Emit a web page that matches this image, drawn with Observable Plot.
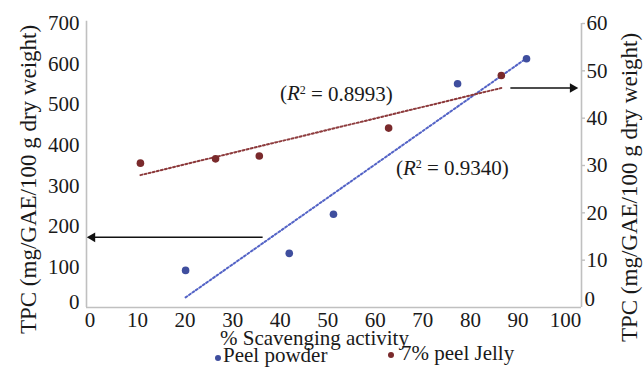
<!DOCTYPE html>
<html><head><meta charset="utf-8">
<script src="https://cdn.jsdelivr.net/npm/d3@7"></script>
<script src="https://cdn.jsdelivr.net/npm/@observablehq/plot@0.6"></script>
<style>
body{margin:0;background:#fff;font-family:"Liberation Serif","Times New Roman",serif;color:#1a1a1a}
#wrap{position:relative;width:643px;height:367px;overflow:hidden}
.abs{position:absolute;white-space:nowrap;font-size:21px;line-height:21px}
.dot{position:absolute;width:6px;height:6px;border-radius:50%}
</style>
</head><body><div id="wrap"></div>
<script>
// Data
const peelX = [20.1, 41.9, 51.2, 77.3, 91.8];
const peelY = [91.5, 133.5, 230, 551.5, 613];      // left axis
const jellyX = [10.6, 26.4, 35.6, 62.8, 86.5];
const jellyY = [30.5, 31.4, 32.0, 37.9, 49.0];     // right axis
const xTicks = [0, 10, 20, 30, 40, 50, 60, 70, 80, 90, 100];
const leftTicks = [0, 100, 200, 300, 400, 500, 600, 700];
const rightTicks = [0, 10, 20, 30, 40, 50, 60];
const xDomain = [-0.74, 103.36];
const leftMax = 700, rightMax = 60;
const seriesNames = ["Peel powder", "7% peel Jelly"];
const r2Values = ["0.8993", "0.9340"];
const r2X = [51.8, 76.2];
const r2Y = [527, 344];
const arrowX1 = [36.3, 88.4];
const arrowX2 = [0.5, 101.5];
const arrowY = [173, 541];
const arrowDir = [-90, 90];
const yTitle = "TPC (mg/GAE/100 g dry weight)";
const xTitle = "% Scavenging activity";

const blueDot = "#3f4e9e", redDot = "#7a2a2c";
const blueLine = "#5363c6", redLine = "#8d3b3d";
const axisGray = "#c0c0c0";
const FONT = "'Liberation Serif', 'Times New Roman', serif";

const peel = peelX.map((x, i) => ({x, y: peelY[i]}));
const jelly = jellyX.map((x, i) => ({x, y: jellyY[i] * leftMax / rightMax}));
const r2 = r2Values.map((v, i) => ({x: r2X[i], y: r2Y[i], text: "(R2 = " + v + ")"}));
const arrows = arrowX1.map((x1, i) => ({x1, x2: arrowX2[i], y: arrowY[i], rot: arrowDir[i]}));
const toLeft = v => v * leftMax / rightMax;

const chart = Plot.plot({
  width: 643, height: 367,
  marginLeft: 86, marginRight: 62, marginTop: 23, marginBottom: 60,
  style: {fontFamily: FONT, fontSize: "21px", color: "#1a1a1a", background: "white"},
  x: {domain: xDomain, axis: null},
  y: {domain: [0, leftMax], axis: null},
  marks: [
    Plot.ruleY([0], {stroke: axisGray, strokeWidth: 1.6}),
    Plot.ruleX([xDomain[0]], {stroke: axisGray, strokeWidth: 1.6, y1: 0, y2: leftMax * 1.008}),
    Plot.ruleX([xDomain[1]], {stroke: axisGray, strokeWidth: 1.6, y1: 0, y2: leftMax}),
    Plot.axisX(xTicks, {tickSize: 0, tickPadding: 5, label: null}),
    Plot.axisY(leftTicks.filter(v => v > 0), {anchor: "left", tickSize: 0, tickPadding: 7, label: null}),
    Plot.axisY([0], {anchor: "left", tickSize: 0, tickPadding: 7, dy: -5, label: null}),
    Plot.axisY(rightTicks.filter(v => v > 0).map(toLeft), {anchor: "right", tickSize: 3, tickPadding: 2, stroke: axisGray, strokeWidth: 1.4, tickFormat: d => String(Math.round(d * rightMax / leftMax)), label: null}),
    Plot.axisY([0], {anchor: "right", tickSize: 0, tickPadding: 3, dy: -8, tickFormat: d => String(d), label: null}),
    Plot.text([yTitle], {frameAnchor: "left", textAnchor: "middle", rotate: -90, dx: -58, dy: 14, fontSize: 23}),
    Plot.text([yTitle], {frameAnchor: "right", textAnchor: "middle", rotate: -90, dx: 48, dy: 22, fontSize: 23}),
    Plot.linearRegressionY(peel, {x: "x", y: "y", ci: 0, stroke: blueLine, strokeWidth: 2, strokeDasharray: "2 2.2"}),
    Plot.linearRegressionY(jelly, {x: "x", y: "y", ci: 0, stroke: redLine, strokeWidth: 2, strokeDasharray: "2 2.2"}),
    Plot.dot(peel, {x: "x", y: "y", r: 3.8, fill: blueDot}),
    Plot.dot(jelly, {x: "x", y: "y", r: 3.8, fill: redDot}),
    Plot.link(arrows, {x1: "x1", x2: "x2", y1: "y", y2: "y", stroke: "#111", strokeWidth: 1.5}),
    Plot.dot(arrows, {x: "x2", y: "y", symbol: "triangle", r: 3.6, fill: "#111", rotate: "rot"}),
    Plot.text(r2, {x: "x", y: "y", text: "text", fontSize: 21})
  ]
});

// italic R with superscript 2
d3.select(chart).selectAll("text").filter(function() { return /^\(R2 = /.test(this.textContent); })
  .each(function() {
    const t = d3.select(this);
    const rest = this.textContent.slice(3);
    t.text(null);
    t.append("tspan").text("(");
    t.append("tspan").attr("font-style", "italic").text("R");
    t.append("tspan").attr("font-size", "12px").attr("dy", "-0.55em").text("2");
    t.append("tspan").attr("dy", "0.33em").text(rest);
  });

const wrap = document.getElementById("wrap");
wrap.appendChild(chart);

function addText(txt, left, top) {
  const d = document.createElement("div");
  d.className = "abs"; d.textContent = txt;
  d.style.left = left + "px"; d.style.top = top + "px";
  wrap.appendChild(d);
}
function addDot(color, left, top) {
  const d = document.createElement("div");
  d.className = "dot"; d.style.background = color;
  d.style.left = left + "px"; d.style.top = top + "px";
  wrap.appendChild(d);
}
addText(xTitle, 220, 328);
addDot(blueDot, 215, 355);
addText(seriesNames[0], 223, 345);
addDot(redDot, 388, 352);
addText(seriesNames[1], 401, 343);
</script>
</body></html>
